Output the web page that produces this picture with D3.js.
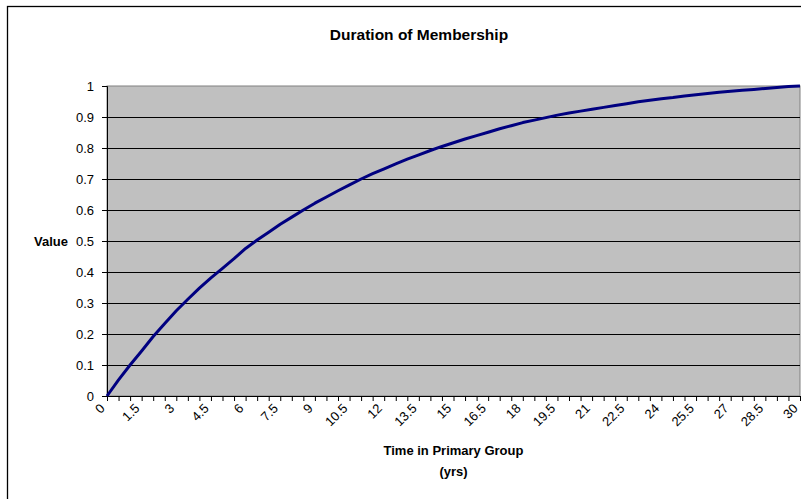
<!DOCTYPE html>
<html>
<head>
<meta charset="utf-8">
<script src="https://cdn.jsdelivr.net/npm/d3@7"></script>
<style>
  body { margin: 0; background: #fff; }
  svg { display: block; font-family: Arial, "Liberation Sans", sans-serif; }
</style>
</head>
<body>
<div id="chart"></div>
<script>
// years in primary group, every half year
var years = ["0","0.5","1","1.5","2","2.5","3","3.5","4","4.5","5","5.5","6","6.5","7","7.5","8","8.5","9","9.5",
             "10","10.5","11","11.5","12","12.5","13","13.5","14","14.5","15","15.5","16","16.5","17","17.5","18","18.5","19","19.5",
             "20","20.5","21","21.5","22","22.5","23","23.5","24","24.5","25","25.5","26","26.5","27","27.5","28","28.5","29","29.5","30"];

var values = [0, 0.052, 0.100, 0.145, 0.192, 0.234, 0.275, 0.312, 0.348, 0.381,
              0.412, 0.443, 0.476, 0.503, 0.528, 0.554, 0.577, 0.600, 0.622, 0.642,
              0.662, 0.681, 0.700, 0.717, 0.733, 0.749, 0.764, 0.778, 0.792, 0.805,
              0.817, 0.829, 0.840, 0.851, 0.862, 0.872, 0.882, 0.890, 0.898, 0.906,
              0.913, 0.919, 0.925, 0.931, 0.937, 0.943, 0.949, 0.954, 0.959, 0.963,
              0.968, 0.972, 0.976, 0.980, 0.983, 0.986, 0.989, 0.992, 0.995, 0.998, 1.000];

var yTicks = [0, 0.1, 0.2, 0.3, 0.4, 0.5, 0.6, 0.7, 0.8, 0.9, 1];

var W = 801, H = 499;
var margin = {top: 86, right: 1, bottom: 103, left: 107};
var width = W - margin.left - margin.right,
    height = H - margin.top - margin.bottom;

var svg = d3.select("#chart").append("svg")
    .attr("width", W)
    .attr("height", H);

// chart frame (cut off at right and bottom like the original)
svg.append("rect")
    .attr("x", 7.5).attr("y", 6.5)
    .attr("width", 900).attr("height", 600)
    .attr("fill", "#fff")
    .attr("stroke", "#000")
    .attr("stroke-width", 1.3);

svg.append("text")
    .attr("x", 419).attr("y", 40)
    .attr("text-anchor", "middle")
    .style("font-size", "15.5px")
    .style("font-weight", "bold")
    .text("Duration of Membership");

var g = svg.append("g")
    .attr("transform", "translate(" + margin.left + "," + margin.top + ")");

var x = d3.scalePoint().domain(years).range([0, width]);
var y = d3.scaleLinear().domain([0, 1]).range([height, 0]);

// plot area
g.append("rect")
    .attr("width", width).attr("height", height)
    .attr("fill", "#c0c0c0")
    .attr("stroke", "#808080")
    .attr("stroke-width", 1);

// gridlines
g.selectAll("line.grid")
    .data(yTicks.slice(1, -1))
  .enter().append("line")
    .attr("class", "grid")
    .attr("x1", 0).attr("x2", width)
    .attr("y1", function(d) { return Math.round(y(d)) + 0.5; })
    .attr("y2", function(d) { return Math.round(y(d)) + 0.5; })
    .attr("stroke", "#000")
    .attr("stroke-width", 1);

// y axis
var yAxis = g.append("g")
    .call(d3.axisLeft(y).tickValues(yTicks).tickSize(5).tickPadding(8)
      .tickFormat(function(d) { return String(d); }));
yAxis.select(".domain").attr("stroke", "#000");
yAxis.selectAll("text")
    .style("font-size", "13px")
    .attr("fill", "#000")
    .style("font-family", "Arial, 'Liberation Sans', sans-serif");

// x axis, label every third category
var xAxis = g.append("g")
    .attr("transform", "translate(0," + height + ")")
    .call(d3.axisBottom(x).tickSize(5).tickSizeOuter(0)
      .tickFormat(function(d, i) { return i % 3 === 0 ? d : ""; }));
xAxis.select(".domain").attr("stroke", "#000");
xAxis.selectAll("text")
    .style("font-size", "13px")
    .attr("fill", "#000")
    .style("font-family", "Arial, 'Liberation Sans', sans-serif")
    .attr("text-anchor", "end")
    .attr("x", 0).attr("y", 0)
    .attr("dy", "0.35em")
    .attr("transform", "translate(-5,10) rotate(-45)");

// line
var line = d3.line()
    .x(function(d, i) { return x(years[i]); })
    .y(function(d) { return y(d); });

g.append("path")
    .datum(values)
    .attr("d", line)
    .attr("fill", "none")
    .attr("stroke", "#000080")
    .attr("stroke-width", 3)
    .attr("stroke-linejoin", "round");

// axis titles
svg.append("text")
    .attr("x", 51).attr("y", 246)
    .attr("text-anchor", "middle")
    .style("font-size", "13px")
    .style("font-weight", "bold")
    .text("Value");

svg.append("text")
    .attr("x", margin.left + width / 2).attr("y", 455)
    .attr("text-anchor", "middle")
    .style("font-size", "13px")
    .style("font-weight", "bold")
    .text("Time in Primary Group");

svg.append("text")
    .attr("x", margin.left + width / 2).attr("y", 476)
    .attr("text-anchor", "middle")
    .style("font-size", "13px")
    .style("font-weight", "bold")
    .text("(yrs)");
</script>
</body>
</html>
